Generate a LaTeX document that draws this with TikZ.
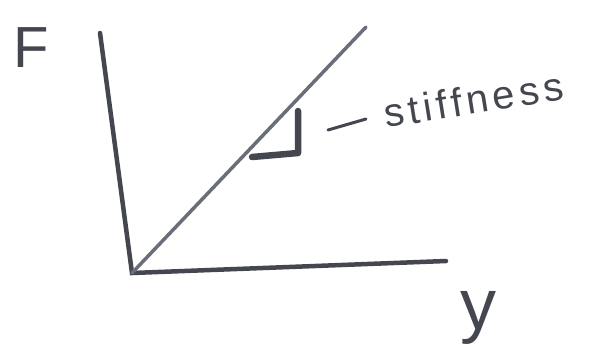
\documentclass[tikz,border=0pt]{standalone}
\usepackage{fontspec}
\setmainfont{Liberation Sans}
\newfontfamily\spaced[LetterSpace=11]{Liberation Sans}
\definecolor{ink}{HTML}{44474F}
\definecolor{inklight}{HTML}{6A6E78}
\begin{document}
\begin{tikzpicture}[x=1pt,y=-1pt,
  axis/.style={draw=ink,line width=4.5pt,line cap=round},
  slope/.style={draw=inklight,line width=3.5pt,line cap=round},
  tri/.style={draw=ink,line width=6.5pt,line cap=round,line join=round},
  lbl/.style={text=ink,inner sep=0pt}]
\useasboundingbox (0,0) rectangle (589,349);
\coordinate (ytop) at (100,33);
\coordinate (o) at (132,273);
\coordinate (xend) at (446,261);
\coordinate (dtop) at (366,27);
\coordinate (ta) at (252,157);
\coordinate (tb) at (298,153);
\coordinate (tc) at (298,111);
\coordinate (da) at (328,130);
\coordinate (db) at (366,119);
\draw[axis] (ytop) -- (o) -- (xend);
\draw[slope] (o) -- (dtop);
\draw[tri] (ta) -- (tb) -- (tc);
\draw[draw=ink,line width=3pt,line cap=round] (da) -- (db);
\node[lbl,font=\fontsize{58}{58}\selectfont] (F) at (31,48) {F};
\node[lbl,font=\fontsize{72}{72}\selectfont] (y) at (478,318) {y};
\node[lbl,font=\spaced\fontsize{40}{40}\selectfont,rotate=9,anchor=base west] (s) at (386,128) {stiffness};
\end{tikzpicture}
\end{document}
